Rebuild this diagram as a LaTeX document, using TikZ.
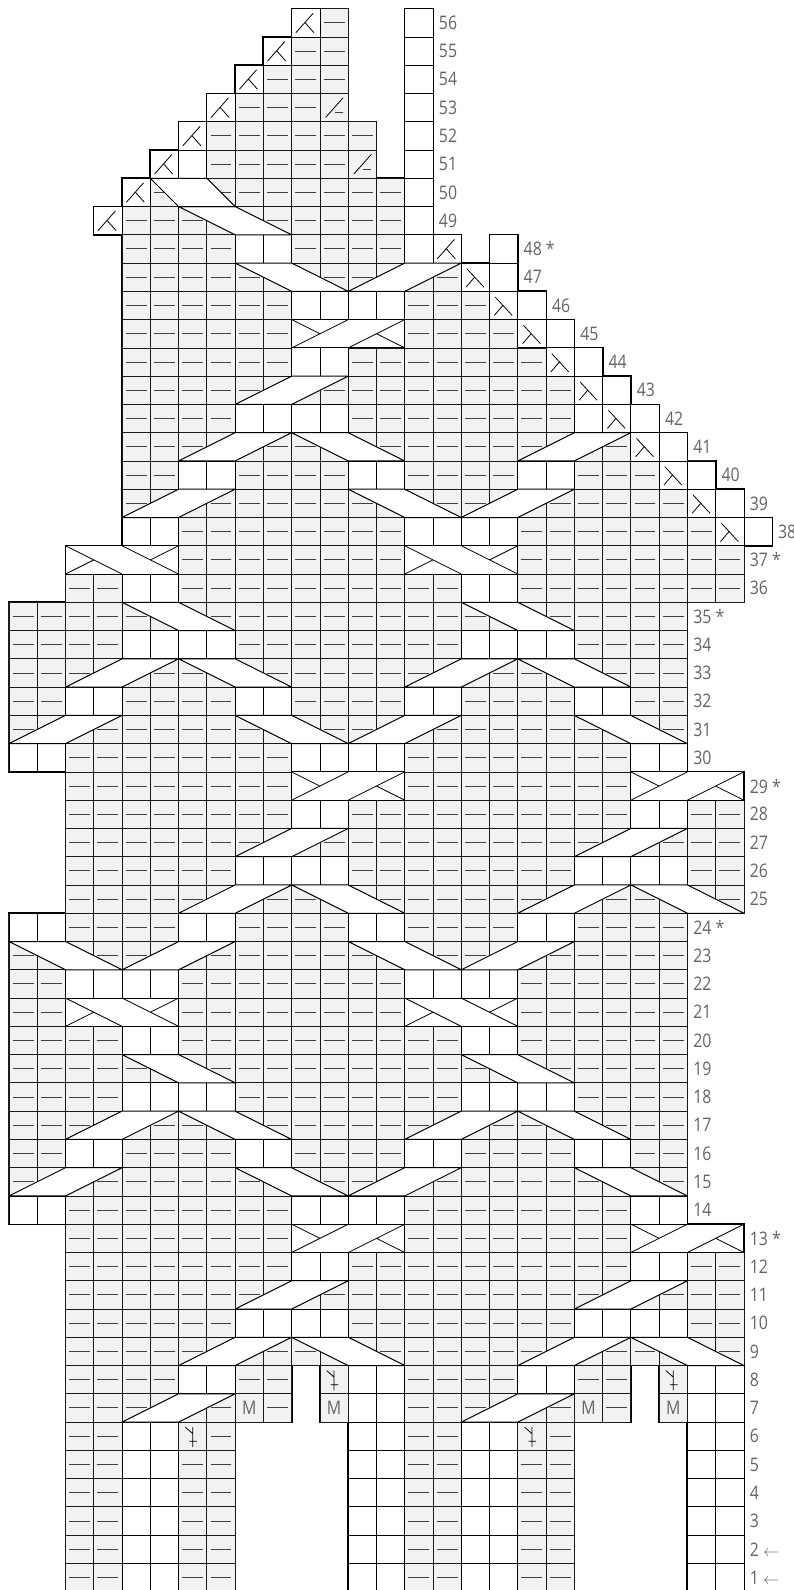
\documentclass[tikz,border=0pt]{standalone}
\usepackage{fontspec}
\setmainfont[FakeStretch=0.85]{Open Sans}
\definecolor{purlgray}{HTML}{F1F2F4}
\definecolor{inkgray}{HTML}{636466}
% rows as row/{first/last,...}
\newcommand{\purlrows}{56/{11/11},55/{10/11},54/{9/11},53/{8/10},52/{7/12},51/{7/11},50/{5/13},49/{4/13},
  48/{4/7,10/13},47/{4/15},46/{4/9,14/16},45/{4/9,14/17},44/{4/9,12/18},43/{4/19},42/{4/7,12/19},41/{4/21},
  40/{4/5,8/11,14/17,20/22},39/{4/23},38/{6/13,18/24},37/{6/13,18/25},36/{2/3,6/15,18/25},35/{0/23},
  34/{0/3,8/15,20/23},33/{0/23},32/{0/1,4/7,10/13,16/19,22/23},31/{0/23},30/{2/9,14/21},29/{2/9,14/21},
  28/{2/9,12/21,24/25},27/{2/25},26/{2/7,12/19,24/25},25/{2/25},24/{2/5,8/11,14/17,20/23},23/{0/23},
  22/{0/1,6/13,18/23},21/{0/1,6/13,18/23},20/{0/3,6/15,18/23},19/{0/23},18/{0/3,8/15,20/23},17/{0/23},
  16/{0/1,4/7,10/13,16/19,22/23},15/{0/23},14/{2/9,14/21},13/{2/9,14/21},12/{2/9,12/21,24/25},11/{2/25},
  10/{2/7,12/19,24/25},9/{2/25},8/{2/5,8/9,14/17,20/21},7/{2/7,9/9,14/19,21/21},6/{2/3,7/7,14/15,19/19},
  5/{2/3,6/7,14/15,18/19},4/{2/3,6/7,14/15,18/19},3/{2/3,6/7,14/15,18/19},2/{2/3,6/7,14/15,18/19},1/{2/3,6/7,14/15,18/19}}
\newcommand{\knitrows}{56/{14/14},55/{14/14},54/{14/14},53/{14/14},52/{14/14},51/{6/6,14/14},50/{14/14},49/{14/14},
  48/{8/9,14/14,17/17},47/{17/17},46/{10/13,18/18},45/{10/13,19/19},44/{10/11,20/20},43/{21/21},
  42/{8/11,20/20,22/22},41/{23/23},40/{6/7,12/13,18/19,24/24},39/{25/25},38/{4/5,14/17,26/26},37/{2/5,14/17},
  36/{4/5,16/17},34/{4/7,16/19},32/{2/3,8/9,14/15,20/21},30/{0/1,10/13,22/23},29/{10/13,22/25},28/{10/11,22/23},
  26/{8/11,20/23},24/{0/1,6/7,12/13,18/19},22/{2/5,14/17},21/{2/5,14/17},20/{4/5,16/17},18/{4/7,16/19},
  16/{2/3,8/9,14/15,20/21},14/{0/1,10/13,22/23},13/{10/13,22/25},12/{10/11,22/23},10/{8/11,20/23},
  8/{6/7,12/13,18/19,24/25},7/{12/13,24/25},6/{4/5,12/13,16/17,24/25},5/{4/5,12/13,16/17,24/25},
  4/{4/5,12/13,16/17,24/25},3/{4/5,12/13,16/17,24/25},2/{4/5,12/13,16/17,24/25},1/{4/5,12/13,16/17,24/25}}
\newcommand{\decleft}{56/10,55/9,54/8,53/7,52/6,51/5,50/4,49/3,48/15}
\newcommand{\decright}{47/16,46/17,45/18,44/19,43/20,42/21,41/22,40/23,39/24,38/25}
\newcommand{\slashsts}{53/11,51/12}
\newcommand{\twigsts}{8/11,8/23,6/6,6/18}
\newcommand{\makests}{7/8,7/11,7/20,7/23}
\tikzset{
  cellback/.style={draw=black, line width=1.4pt},
  purlcell/.style={fill=purlgray, draw=black!90, line width=.6pt},
  knitcell/.style={fill=white, draw=black, line width=.65pt},
  purldash/.style={draw=black!75, line width=.7pt},
  signline/.style={draw=black, line width=.6pt},
  cableband/.style={fill=white, draw=black, line width=.75pt, line join=bevel},
  rowlabel/.style={anchor=west, inner sep=0pt, text=inkgray, font=\fontsize{14}{14}\selectfont},
}
\begin{document}
\begin{tikzpicture}[x=21.2pt, y=21.2pt]
  \useasboundingbox (-0.318,0.06) rectangle (27.77,56.308);
  % Heavy under-layer, leaves the outer edge thicker
  \foreach \r/\ranges in \purlrows {
    \draw[cellback] \foreach \a/\b in \ranges {(\a,\r-1) rectangle (\b+1,\r)};
  }
  \foreach \r/\ranges in \knitrows {
    \draw[cellback] \foreach \a/\b in \ranges {(\a,\r-1) rectangle (\b+1,\r)};
  }
  \draw[cellback] \foreach \r/\c in \decleft {(\c,\r-1) rectangle (\c+1,\r)};
  \draw[cellback] \foreach \r/\c in \decright {(\c,\r-1) rectangle (\c+1,\r)};
  \draw[cellback] \foreach \r/\c in \slashsts {(\c,\r-1) rectangle (\c+1,\r)};
  \draw[cellback] \foreach \r/\c in \twigsts {(\c,\r-1) rectangle (\c+1,\r)};
  \draw[cellback] \foreach \r/\c in \makests {(\c,\r-1) rectangle (\c+1,\r)};
  % Purl stitches
  \foreach \r/\ranges in \purlrows {
    \foreach \a/\b in \ranges {
      \draw[purlcell] (\a,\r-1) rectangle (\b+1,\r)
        \foreach \c in {\a,...,\b} {(\c,\r-1) -- (\c,\r)};
      \draw[purldash] \foreach \c in {\a,...,\b} {(\c+0.13,\r-0.5) -- (\c+0.87,\r-0.5)};
    }
  }
  % Knit stitches
  \foreach \r/\ranges in \knitrows {
    \foreach \a/\b in \ranges {
      \draw[knitcell] (\a,\r-1) rectangle (\b+1,\r)
        \foreach \c in {\a,...,\b} {(\c,\r-1) -- (\c,\r)};
    }
  }
  % Decreases on the shaped edges
  \foreach \r/\c in \decleft {
    \draw[knitcell] (\c,\r-1) rectangle (\c+1,\r);
    \draw[signline] (\c+0.76,\r-0.16) -- (\c+0.15,\r-0.85) (\c+0.47,\r-0.49) -- (\c+0.79,\r-0.85);
  }
  \foreach \r/\c in \decright {
    \draw[knitcell] (\c,\r-1) rectangle (\c+1,\r);
    \draw[signline] (\c+0.2,\r-0.2) -- (\c+0.8,\r-0.85) (\c+0.47,\r-0.5) -- (\c+0.17,\r-0.85);
  }
  % Purl decreases at the neck
  \foreach \r/\c in \slashsts {
    \draw[purlcell] (\c,\r-1) rectangle (\c+1,\r);
    \draw[signline] (\c+0.82,\r-0.15) -- (\c+0.2,\r-0.85);
    \draw[purldash] (\c+0.53,\r-0.68) -- (\c+0.82,\r-0.68);
  }
  % Forked stitches below the gussets
  \foreach \r/\c in \twigsts {
    \draw[purlcell] (\c,\r-1) rectangle (\c+1,\r);
    \draw[signline] (\c+0.24,\r-0.18) -- (\c+0.5,\r-0.41) (\c+0.5,\r-0.18) -- (\c+0.5,\r-0.88)
      (\c+0.38,\r-0.68) -- (\c+0.65,\r-0.68);
  }
  % Increases
  \foreach \r/\c in \makests {
    \draw[purlcell] (\c,\r-1) rectangle (\c+1,\r);
    \node[inner sep=0pt, text=inkgray, font=\fontsize{14}{14}\selectfont] (make\r-\c) at (\c+0.5,\r-0.5) {M};
  }
  % Cables leaning left going up
  \foreach \r/\a in {49/6,47/8,41/10,39/12,35/4,35/16,33/6,33/18,31/8,31/20,25/10,25/22,23/0,23/12,
                     19/4,19/16,17/6,17/18,15/8,15/20,9/10,9/22} {
    \draw[cableband] (\a,\r) -- (\a+2,\r) -- (\a+4,\r-1) -- (\a+2,\r-1) -- cycle;
  }
  \draw[cableband] (5,50) -- (7,50) -- (8,49) -- (6,49) -- cycle;
  % Cables leaning right going up
  \foreach \r/\a in {47/12,43/8,41/6,41/18,39/4,39/16,33/2,33/14,31/0,31/12,27/8,27/20,25/6,25/18,
                     23/4,23/16,17/2,17/14,15/0,15/12,11/8,11/20,9/6,9/18,7/4,7/16} {
    \draw[cableband] (\a,\r-1) -- (\a+2,\r-1) -- (\a+4,\r) -- (\a+2,\r) -- cycle;
  }
  % Crossings, one band passing over the other
  \foreach \r/\a in {37/2,37/14,21/2,21/14} {
    \draw[cableband] (\a,\r-1) rectangle (\a+4,\r);
    \draw[signline] (\a,\r) -- (\a+2,\r-1) (\a+2,\r) -- (\a+4,\r-1)
      (\a,\r-1) -- (\a+1,\r-0.5) (\a+3,\r-0.5) -- (\a+4,\r);
  }
  \foreach \r/\a in {45/10,29/10,29/22,13/10,13/22} {
    \draw[cableband] (\a,\r-1) rectangle (\a+4,\r);
    \draw[signline] (\a,\r-1) -- (\a+2,\r) (\a+2,\r-1) -- (\a+4,\r)
      (\a,\r) -- (\a+1,\r-0.5) (\a+3,\r-0.5) -- (\a+4,\r-1);
  }
  % Row numbers, row/right edge/text
  \foreach \r/\x/\lab in {56/15/56,55/15/55,54/15/54,53/15/53,52/15/52,51/15/51,50/15/50,49/15/49,
      48/18/{48 *},47/18/47,46/19/46,45/20/45,44/21/44,43/22/43,42/23/42,41/24/41,40/25/40,39/26/39,38/27/38,
      37/26/{37 *},36/26/36,35/24/{35 *},34/24/34,33/24/33,32/24/32,31/24/31,30/24/30,29/26/{29 *},28/26/28,
      27/26/27,26/26/26,25/26/25,24/24/{24 *},23/24/23,22/24/22,21/24/21,20/24/20,19/24/19,18/24/18,17/24/17,
      16/24/16,15/24/15,14/24/14,13/26/{13 *},12/26/12,11/26/11,10/26/10,9/26/9,8/26/8,7/26/7,6/26/6,5/26/5,
      4/26/4,3/26/3} {
    \node[rowlabel] (row\r) at (\x+0.2,\r-0.5) {\lab};
  }
  \foreach \r in {2,1} {
    \node[rowlabel] (row\r) at (26.2,\r-0.5) {\r\ {\fontsize{12}{12}\selectfont$\leftarrow$}};
  }
\end{tikzpicture}
\end{document}
